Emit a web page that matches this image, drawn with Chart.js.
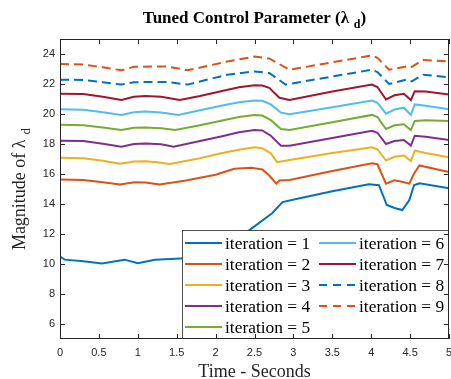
<!DOCTYPE html>
<html>
<head>
<meta charset="utf-8">
<script src="https://cdn.jsdelivr.net/npm/chart.js@4/dist/chart.umd.min.js"></script>
<style>
  html, body { margin: 0; padding: 0; background: #fff; }
</style>
</head>
<body>
<canvas id="chart" width="451" height="379"></canvas>
<script>
// values
const xTicks = [0, 0.5, 1, 1.5, 2, 2.5, 3, 3.5, 4, 4.5, 5];
const yTicks = [6, 8, 10, 12, 14, 16, 18, 20, 22, 24];
const labels = ['iteration = 1', 'iteration = 2', 'iteration = 3', 'iteration = 4', 'iteration = 5',
                'iteration = 6', 'iteration = 7', 'iteration = 8', 'iteration = 9'];

const t1 = [0, 0.06, 0.3, 0.54, 0.83, 1.0, 1.22, 1.55, 1.9, 2.2, 2.44, 2.73, 2.86, 3.08, 3.5, 3.97, 4.1, 4.2, 4.3, 4.4, 4.49, 4.55, 4.62, 5];
const y1 = [10.49, 10.29, 10.18, 10.03, 10.29, 10.05, 10.29, 10.36, 10.9, 11.6, 12.28, 13.4, 14.13, 14.39, 14.85, 15.31, 15.25, 13.93, 13.73, 13.6, 14.26, 15.25, 15.38, 15.05];

const t2 = [0, 0.3, 0.55, 0.77, 0.96, 1.1, 1.28, 1.6, 2.0, 2.24, 2.46, 2.6, 2.69, 2.78, 2.82, 2.95, 3.5, 4.01, 4.08, 4.19, 4.3, 4.41, 4.49, 4.55, 4.62, 5];
const y2 = [15.63, 15.6, 15.45, 15.3, 15.45, 15.44, 15.3, 15.55, 15.95, 16.35, 16.41, 16.3, 15.9, 15.36, 15.56, 15.6, 16.2, 16.72, 16.65, 15.36, 15.58, 15.47, 15.36, 16.02, 16.57, 16.13];

const t3 = [0, 0.3, 0.55, 0.77, 0.95, 1.1, 1.25, 1.41, 1.8, 2.07, 2.3, 2.5, 2.6, 2.71, 2.79, 2.95, 3.5, 4.01, 4.08, 4.19, 4.3, 4.42, 4.51, 4.56, 4.7, 5];
const y3 = [17.08, 17.05, 16.88, 16.68, 16.83, 16.85, 16.78, 16.66, 17.05, 17.38, 17.62, 17.78, 17.72, 17.38, 16.79, 16.93, 17.4, 17.78, 17.65, 16.9, 17.15, 17.23, 16.86, 17.56, 17.4, 17.12];

const t4 = [0, 0.3, 0.55, 0.79, 0.95, 1.1, 1.3, 1.46, 1.8, 2.07, 2.3, 2.5, 2.6, 2.71, 2.84, 2.95, 3.5, 4.01, 4.08, 4.19, 4.3, 4.42, 4.51, 4.56, 4.7, 5];
const y4 = [18.22, 18.2, 18.02, 17.82, 18.0, 18.04, 17.98, 17.82, 18.2, 18.5, 18.78, 18.93, 18.9, 18.55, 17.89, 17.89, 18.4, 18.88, 18.75, 18.0, 18.2, 18.27, 17.89, 18.55, 18.48, 18.27];

const t5 = [0, 0.3, 0.55, 0.79, 0.95, 1.1, 1.3, 1.48, 1.8, 2.07, 2.3, 2.5, 2.6, 2.71, 2.84, 2.95, 3.5, 4.01, 4.08, 4.19, 4.3, 4.42, 4.51, 4.56, 4.7, 5];
const y5 = [19.28, 19.25, 19.1, 18.93, 19.08, 19.1, 19.05, 18.93, 19.25, 19.55, 19.8, 19.94, 19.9, 19.59, 19.0, 18.93, 19.45, 19.94, 19.8, 19.0, 19.25, 19.32, 18.93, 19.54, 19.58, 19.54];

const t6 = [0, 0.3, 0.55, 0.79, 0.95, 1.1, 1.3, 1.52, 1.8, 2.07, 2.3, 2.5, 2.6, 2.71, 2.84, 2.95, 3.5, 4.01, 4.08, 4.19, 4.3, 4.42, 4.51, 4.56, 4.7, 5];
const y6 = [20.31, 20.29, 20.12, 19.94, 20.12, 20.16, 20.1, 19.94, 20.25, 20.55, 20.78, 20.9, 20.88, 20.64, 20.09, 19.98, 20.45, 20.9, 20.75, 20.02, 20.3, 20.42, 19.94, 20.64, 20.55, 20.31];

const t7 = [0, 0.3, 0.55, 0.79, 0.95, 1.1, 1.3, 1.54, 1.8, 2.07, 2.3, 2.5, 2.6, 2.69, 2.82, 2.95, 3.5, 4.01, 4.08, 4.19, 4.3, 4.42, 4.51, 4.56, 4.7, 5];
const y7 = [21.35, 21.33, 21.15, 20.93, 21.15, 21.2, 21.15, 20.93, 21.2, 21.52, 21.78, 21.92, 21.9, 21.74, 21.08, 20.93, 21.5, 21.96, 21.8, 20.97, 21.25, 21.35, 20.93, 21.52, 21.5, 21.3];

const t8 = [0, 0.3, 0.55, 0.79, 0.95, 1.38, 1.64, 2.15, 2.5, 2.69, 2.9, 3.5, 4.01, 4.08, 4.23, 4.45, 4.52, 4.67, 5];
const y8 = [22.29, 22.27, 22.12, 21.96, 22.12, 22.14, 21.96, 22.62, 22.84, 22.73, 21.96, 22.5, 22.95, 22.8, 22.0, 22.29, 22.18, 22.62, 22.45];

const t9 = [0, 0.3, 0.55, 0.79, 0.95, 1.38, 1.64, 2.15, 2.5, 2.69, 2.95, 3.5, 4.01, 4.08, 4.23, 4.45, 4.51, 4.66, 5];
const y9 = [23.33, 23.3, 23.12, 22.91, 23.15, 23.17, 22.91, 23.5, 23.83, 23.7, 22.95, 23.45, 23.9, 23.75, 22.95, 23.17, 23.1, 23.6, 23.5];

const times = [t1, t2, t3, t4, t5, t6, t7, t8, t9];
const values = [y1, y2, y3, y4, y5, y6, y7, y8, y9];

// MATLAB default line colours
const colors = ['#0072BD', '#D95319', '#EDB120', '#7E2F8E', '#77AC30', '#4DBEEE', '#A2142F', '#0072BD', '#D95319'];
const dashes = [[], [], [], [], [], [], [], [9, 5], [9, 5]];

const SERIF = '"Liberation Serif", "Times New Roman", serif';
const SANS = '"Liberation Sans", Arial, Helvetica, sans-serif';
const INK = '#262626';

// text with a lowered subscript, centred on x
function drawSub(ctx, main, sub, tail, x, y, size, bold) {
    const f = (bold ? 'bold ' : '') + size + 'px ' + SERIF;
    const fs = (bold ? 'bold ' : '') + Math.round(size * 0.72) + 'px ' + SERIF;
    ctx.font = f;
    const w1 = ctx.measureText(main).width;
    const gap = size * 0.28;
    const w3 = ctx.measureText(tail).width;
    ctx.font = fs;
    const w2 = ctx.measureText(sub).width;
    let cx = x - (w1 + gap + w2 + w3) / 2;
    ctx.textAlign = 'left';
    ctx.textBaseline = 'alphabetic';
    ctx.font = f;
    ctx.fillText(main, cx, y);
    cx += w1 + gap;
    ctx.font = fs;
    ctx.fillText(sub, cx, y + size * 0.3);
    cx += w2;
    ctx.font = f;
    ctx.fillText(tail, cx, y);
}

const decor = {
    id: 'decor',
    afterDraw(chart) {
        const { ctx, chartArea: a, scales: { x, y } } = chart;
        ctx.save();

        // legend box (two columns, filled top to bottom)
        const bx = 182.5, by = 230.5, bw = 266, bh = 108;
        ctx.fillStyle = '#fff';
        ctx.fillRect(bx, by, bw, bh);
        ctx.strokeStyle = INK;
        ctx.lineWidth = 0.8;
        ctx.strokeRect(bx, by, bw, bh);
        ctx.font = '17.4px ' + SERIF;
        ctx.textAlign = 'left';
        ctx.textBaseline = 'alphabetic';
        labels.forEach((lab, i) => {
            const col = i < 5 ? 0 : 1;
            const row = i < 5 ? i : i - 5;
            const lx = col === 0 ? 185 : 319;
            const ly = 243 + row * 21;
            ctx.strokeStyle = colors[i];
            ctx.lineWidth = 2;
            ctx.setLineDash(dashes[i].length ? [8, 6] : []);
            ctx.beginPath();
            ctx.moveTo(lx, ly);
            ctx.lineTo(lx + 37, ly);
            ctx.stroke();
            ctx.setLineDash([]);
            ctx.fillStyle = '#000';
            ctx.fillText(lab, lx + 40, ly + 5.5);
        });

        // axes box with inward ticks
        ctx.strokeStyle = INK;
        ctx.lineWidth = 1;
        ctx.strokeRect(a.left + 0.5, a.top + 0.5, a.right - a.left - 1, a.bottom - a.top - 1);
        ctx.beginPath();
        xTicks.forEach(v => {
            const px = Math.round(x.getPixelForValue(v)) + 0.5;
            ctx.moveTo(px, a.bottom);
            ctx.lineTo(px, a.bottom - 5);
            ctx.moveTo(px, a.top);
            ctx.lineTo(px, a.top + 5);
        });
        yTicks.forEach(v => {
            const py = Math.round(y.getPixelForValue(v)) + 0.5;
            ctx.moveTo(a.left, py);
            ctx.lineTo(a.left + 5, py);
            ctx.moveTo(a.right, py);
            ctx.lineTo(a.right - 5, py);
        });
        ctx.stroke();

        // title and axis titles
        ctx.fillStyle = '#000';
        const cx = (a.left + a.right) / 2;
        drawSub(ctx, 'Tuned Control Parameter (\u03bb', 'd', ')', cx, 23, 17, true);

        ctx.fillStyle = INK;
        ctx.font = '18px ' + SERIF;
        ctx.textAlign = 'center';
        ctx.fillText('Time - Seconds', cx, 377);

        ctx.translate(25, (a.top + a.bottom) / 2);
        ctx.rotate(-Math.PI / 2);
        drawSub(ctx, 'Magnitude of \u03bb', 'd', '', 0, 0, 18, false);
        ctx.restore();
    }
};

new Chart(document.getElementById('chart'), {
    type: 'line',
    data: {
        datasets: labels.map((lab, i) => ({
            label: lab,
            data: times[i].map((t, k) => ({ x: t, y: values[i][k] })),
            borderColor: colors[i],
            borderWidth: 2,
            borderDash: dashes[i],
            pointRadius: 0,
            fill: false,
            tension: 0
        }))
    },
    options: {
        responsive: false,
        animation: false,
        devicePixelRatio: 1,
        layout: { padding: { top: 39, right: 2, left: 0, bottom: 0 } },
        plugins: {
            legend: { display: false },
            title: { display: false },
            tooltip: { enabled: false }
        },
        scales: {
            x: {
                type: 'linear',
                min: 0,
                max: 5,
                afterBuildTicks: s => { s.ticks = xTicks.map(v => ({ value: v })); },
                afterFit: s => { s.height = 40; s.paddingLeft = 0; s.paddingRight = 0; },
                grid: { display: false, drawTicks: false },
                border: { display: false },
                ticks: {
                    font: { family: SANS, size: 11 },
                    color: INK,
                    padding: 7,
                    maxRotation: 0,
                    autoSkip: false,
                    callback: v => String(v)
                }
            },
            y: {
                type: 'linear',
                min: 5,
                max: 25,
                afterBuildTicks: s => { s.ticks = yTicks.map(v => ({ value: v })); },
                afterFit: s => { s.width = 60; s.paddingTop = 0; s.paddingBottom = 0; },
                grid: { display: false, drawTicks: false },
                border: { display: false },
                ticks: {
                    font: { family: SANS, size: 11 },
                    color: INK,
                    padding: 5,
                    autoSkip: false,
                    callback: v => String(v)
                }
            }
        }
    },
    plugins: [decor]
});
</script>
</body>
</html>
